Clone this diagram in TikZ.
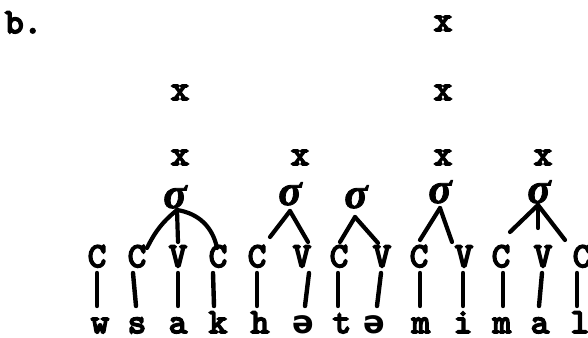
\documentclass[tikz,border=0pt]{standalone}
\usepackage{fontspec}
\newfontfamily\twfont{lmmono10-regular}[Extension=.otf, FakeBold=5]
\newfontfamily\sgfont{Liberation Serif}[FakeBold=2]
\newfontfamily\schwafont{DejaVu Sans}
\begin{document}
\begin{tikzpicture}[x=1pt,y=-1pt,
  tw/.style={font=\twfont\fontsize{35}{35}\selectfont, inner sep=0pt, anchor=base},
  cv/.style={tw},
  seg/.style={tw},
  schwa/.style={seg, font=\schwafont\bfseries\fontsize{32}{32}\selectfont},
  sig/.style={font=\sgfont\bfseries\itshape\fontsize{43}{43}\selectfont, inner sep=0pt, anchor=base},
  bar/.style={line width=4.4pt, line cap=round},
  br/.style={line width=4.2pt, line cap=round, line join=round}]
\useasboundingbox (0,0) rectangle (588,337);

% label
\node[tw, anchor=base west] (lab) at (5,33) {b.};

% x marks
\node[tw] (xt4) at (443,31) {x};
\node[tw] (xm1) at (180,100) {x};
\node[tw] (xm4) at (443,100) {x};
\node[tw] (xl1) at (180,165) {x};
\node[tw] (xl2) at (300,165) {x};
\node[tw] (xl4) at (443,165) {x};
\node[tw] (xl5) at (543,165) {x};

% syllables
\node[sig] (s1) at (175,208) {σ};
\node[sig] (s2) at (290,205) {σ};
\node[sig] (s3) at (356,208) {σ};
\node[sig] (s4) at (440,203) {σ};
\node[sig] (s5) at (539,203) {σ};

% C / V tier
\node[cv] (c1)  at (97,267)  {C};
\node[cv] (c2)  at (137,267) {C};
\node[cv] (c3)  at (178,267) {V};
\node[cv] (c4)  at (218,267) {C};
\node[cv] (c5)  at (257,267) {C};
\node[cv] (c6)  at (302,267) {V};
\node[cv] (c7)  at (339,267) {C};
\node[cv] (c8)  at (382,267) {V};
\node[cv] (c9)  at (419,267) {C};
\node[cv] (c10) at (464,267) {V};
\node[cv] (c11) at (501,267) {C};
\node[cv] (c12) at (543,267) {V};
\node[cv] (c13) at (582,267) {C};

% segments
\node[seg] (b1)  at (100,333) {w};
\node[seg] (b2)  at (137,333) {s};
\node[seg] (b3)  at (178,333) {a};
\node[seg] (b4)  at (218,333) {k};
\node[seg] (b5)  at (260,333) {h};
\node[schwa] (b6)  at (303,333) {ə};
\node[seg] (b7)  at (342,333) {t};
\node[schwa] (b8)  at (374,333) {ə};
\node[seg] (b9)  at (421,333) {m};
\node[seg] (b10) at (463,333) {i};
\node[seg] (b11) at (502,333) {m};
\node[seg] (b12) at (540,333) {a};
\node[seg] (b13) at (580,333) {l};

% association bars
\foreach \i/\ta/\ba in {1/0/-3, 2/-4/-1, 3/0/0, 4/-5/-4, 5/0/-3, 6/7/2, 7/-1/-4,
                        8/-1/3, 9/1/-1, 10/-1/0, 11/2/1, 12/-1/-1, 13/-5/-3}
  \draw[bar] ([xshift=\ta pt,yshift=-6pt]c\i.base) -- ([xshift=\ba pt,yshift=27pt]b\i.base);

% syllable branches
\draw[br] ([xshift=2pt,yshift=-2pt]s1.base) to[bend right=12] ([xshift=10pt,yshift=19pt]c2.base);
\draw[br] ([xshift=2pt,yshift=-2pt]s1.base) -- ([yshift=25pt]c3.base);
\draw[br] ([xshift=2pt,yshift=-2pt]s1.base) to[bend left=35] ([xshift=-1pt,yshift=19pt]c4.base);

\draw[br] ([yshift=-6pt]s2.base) -- ([xshift=13pt,yshift=30pt]c5.base);
\draw[br] ([yshift=-6pt]s2.base) -- ([xshift=6pt,yshift=25pt]c6.base);

\draw[br] ([xshift=-1pt,yshift=-9pt]s3.base) -- ([xshift=1pt,yshift=25pt]c7.base);
\draw[br] ([xshift=-1pt,yshift=-9pt]s3.base) -- ([xshift=-4pt,yshift=24pt]c8.base);

\draw[br] ([yshift=-5pt]s4.base) -- ([xshift=1pt,yshift=27pt]c9.base);
\draw[br] ([yshift=-5pt]s4.base) -- ([xshift=-12pt,yshift=25pt]c10.base);

\draw[br] ([xshift=-1pt,yshift=-2pt]s5.base) -- ([xshift=9pt,yshift=35pt]c11.base);
\draw[br] ([xshift=-1pt,yshift=-2pt]s5.base) -- ([xshift=-5pt,yshift=39pt]c12.base);
\draw[br] ([xshift=-1pt,yshift=-2pt]s5.base) -- ([xshift=-17pt,yshift=27pt]c13.base);
\end{tikzpicture}
\end{document}
